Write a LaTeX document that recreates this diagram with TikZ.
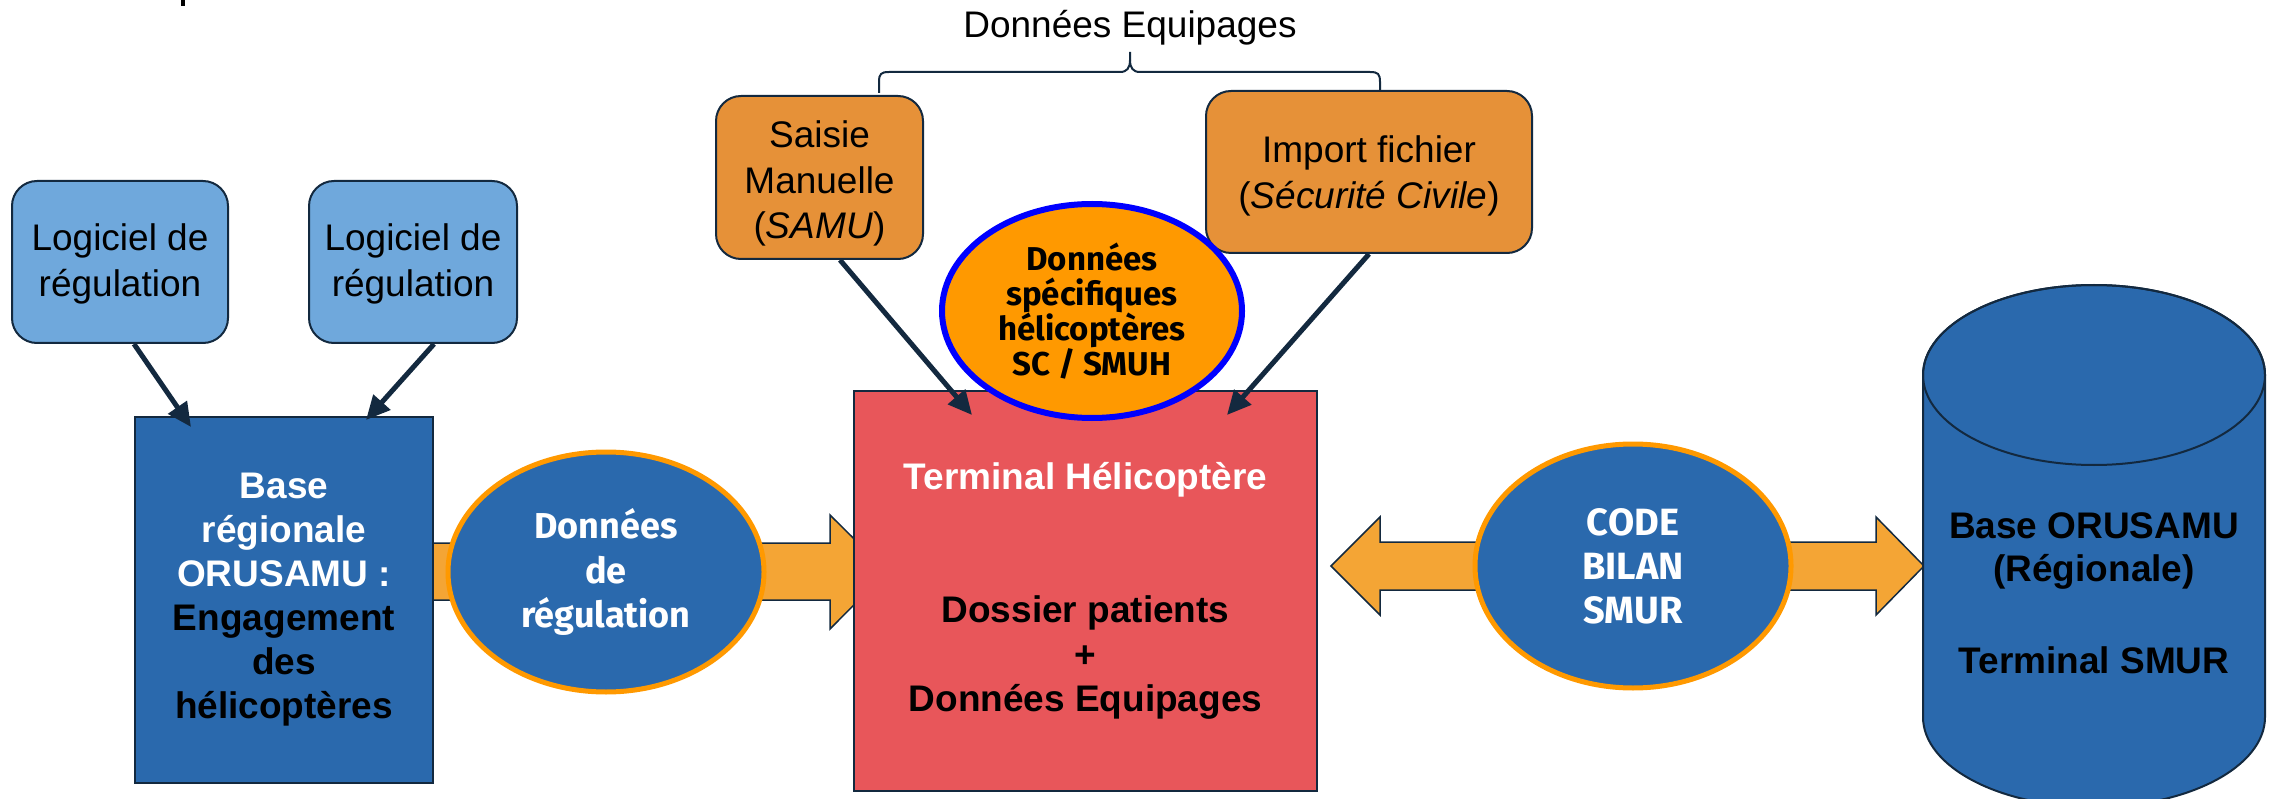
\documentclass[tikz,border=0pt]{standalone}
\usepackage{fontspec}
\setmainfont{Liberation Sans}
\newfontfamily\aptos{Fira Sans}
\usetikzlibrary{arrows.meta,shapes.geometric,calc}
\definecolor{navy}{HTML}{13293F}
\definecolor{lblue}{HTML}{6FA8DC}
\definecolor{dblue}{HTML}{2A69AD}
\definecolor{boxorange}{HTML}{E69138}
\definecolor{arroworange}{HTML}{F4A535}
\definecolor{brightorange}{HTML}{FF9900}
\definecolor{redfill}{HTML}{E8565A}
\begin{document}
\begin{tikzpicture}[x=1pt,y=-1pt,
  roundbox/.style={draw=navy,line width=2pt,rounded corners=25pt,inner sep=0pt,minimum height=162pt},
  boxtext/.style={align=center,inner sep=0pt,font=\fontsize{37}{45.5}\selectfont,text=black},
  squarebox/.style={draw=navy,line width=2pt,inner sep=0pt,align=center},
  bluebubble/.style={ellipse,fill=dblue,draw=brightorange,line width=5pt,inner sep=0pt,align=center,
    text=white,font=\aptos\bfseries\fontsize{36}{44.5}\selectfont},
  blockarrow/.style={fill=arroworange,draw=navy,line width=1.5pt,line join=miter},
  darkarrow/.style={draw=navy,line width=5pt,-{Triangle[length=24pt,width=22pt]}},
  bracestyle/.style={draw=navy,line width=2pt},
]
\useasboundingbox (0,0) rectangle (2272,799);
\fill[black] (181,0) rectangle (185,6);

% block arrows (behind)
\draw[blockarrow] (433,543) -- (830,543) -- (830,515) -- (887,571.5) -- (830,629) -- (830,600) -- (433,600) -- cycle;
\draw[blockarrow] (1331,566) -- (1380,517) -- (1380,542) -- (1876,542) -- (1876,517) -- (1924,566)
  -- (1876,615) -- (1876,590) -- (1380,590) -- (1380,615) -- cycle;

% title and brace
\node[anchor=base,font=\fontsize{37}{44}\selectfont] (title) at (1130,38) {Données Equipages};
\draw[bracestyle] (879,93) -- (879,82) .. controls (879,74) and (881,72) .. (889,72) -- (1120,72)
  .. controls (1127,72) and (1130,68) .. (1130,60) -- (1130,52);
\draw[bracestyle] (1130,60) .. controls (1130,68) and (1133,72) .. (1140,72) -- (1370,72)
  .. controls (1378,72) and (1380,74) .. (1380,82) -- (1380,91);

% rounded boxes
\node[roundbox,fill=lblue,minimum width=216pt] (lg1) at (120,262) {};
\node[boxtext,yshift=-2pt] (lg1t) at (lg1.center) {Logiciel de\\régulation};
\node[roundbox,fill=lblue,minimum width=208pt] (lg2) at (413,262) {};
\node[boxtext,yshift=-2pt] (lg2t) at (lg2.center) {Logiciel de\\régulation};
\node[roundbox,fill=boxorange,minimum width=207pt,minimum height=163pt] (saisie) at (819.5,177.5) {};
\node[boxtext,yshift=-6pt] (saisiet) at (saisie.center) {Saisie\\Manuelle\\(\textit{SAMU})};
\node[roundbox,fill=boxorange,minimum width=326pt] (import) at (1369,172) {};
\node[boxtext,yshift=-4pt] (importt) at (import.center) {Import fichier\\(\textit{Sécurité Civile})};

\node[squarebox,fill=dblue,minimum width=298pt,minimum height=366pt,
  font=\bfseries\fontsize{37}{44}\selectfont] (base) at (284,600)
  {\textcolor{white}{Base}\\\textcolor{white}{régionale}\\\textcolor{white}{ORUSAMU :}\\Engagement\\des\\hélicoptères};

\node[squarebox,fill=redfill,minimum width=463pt,minimum height=400pt,
  font=\bfseries\fontsize{37}{44.5}\selectfont] (term) at (1085.5,591)
  {\textcolor{white}{Terminal Hélicoptère}\\[89pt]Dossier patients\\+\\Données Equipages};

% cylinder
\filldraw[fill=dblue,draw=navy,line width=2pt] (1923,375) -- (1923,717)
  arc[start angle=180,end angle=0,x radius=171,y radius=90] -- (2265,375)
  arc[start angle=0,end angle=-180,x radius=171,y radius=90] -- cycle;
\draw[navy,line width=2pt] (2094,375) ellipse[x radius=171,y radius=90];
\node[align=center,font=\bfseries\fontsize{37}{43}\selectfont] (cyl) at (2094,593)
  {Base ORUSAMU\\(Régionale)\\[49pt]Terminal SMUR};

% bubbles
\node[bluebubble,minimum width=316pt,minimum height=240pt] (ddr) at (606,572) {Données\\de\\régulation};
\node[bluebubble,minimum width=316pt,minimum height=244pt,font=\aptos\bfseries\fontsize{38}{44}\selectfont] (code) at (1633,566) {CODE\\BILAN\\SMUR};
\node[ellipse,fill=brightorange,draw=blue,line width=6pt,inner sep=0pt,align=center,
  minimum width=300pt,minimum height=214pt,font=\aptos\bfseries\fontsize{33}{35}\selectfont] (spec) at (1092,311)
  {Données\\spécifiques\\hélicoptères\\SC / SMUH};

% dark arrows
\coordinate (t1) at (191,427);
\coordinate (t2) at (366,420);
\coordinate (t3) at (972,415);
\coordinate (t4) at (1227,415);
\draw[darkarrow] ($(lg1.south)+(14,0)$) -- (t1);
\draw[darkarrow] ($(lg2.south)+(21,0)$) -- (t2);
\draw[darkarrow] ($(saisie.south)+(20.5,0)$) -- (t3);
\draw[darkarrow] (import.south) -- (t4);
\end{tikzpicture}
\end{document}
